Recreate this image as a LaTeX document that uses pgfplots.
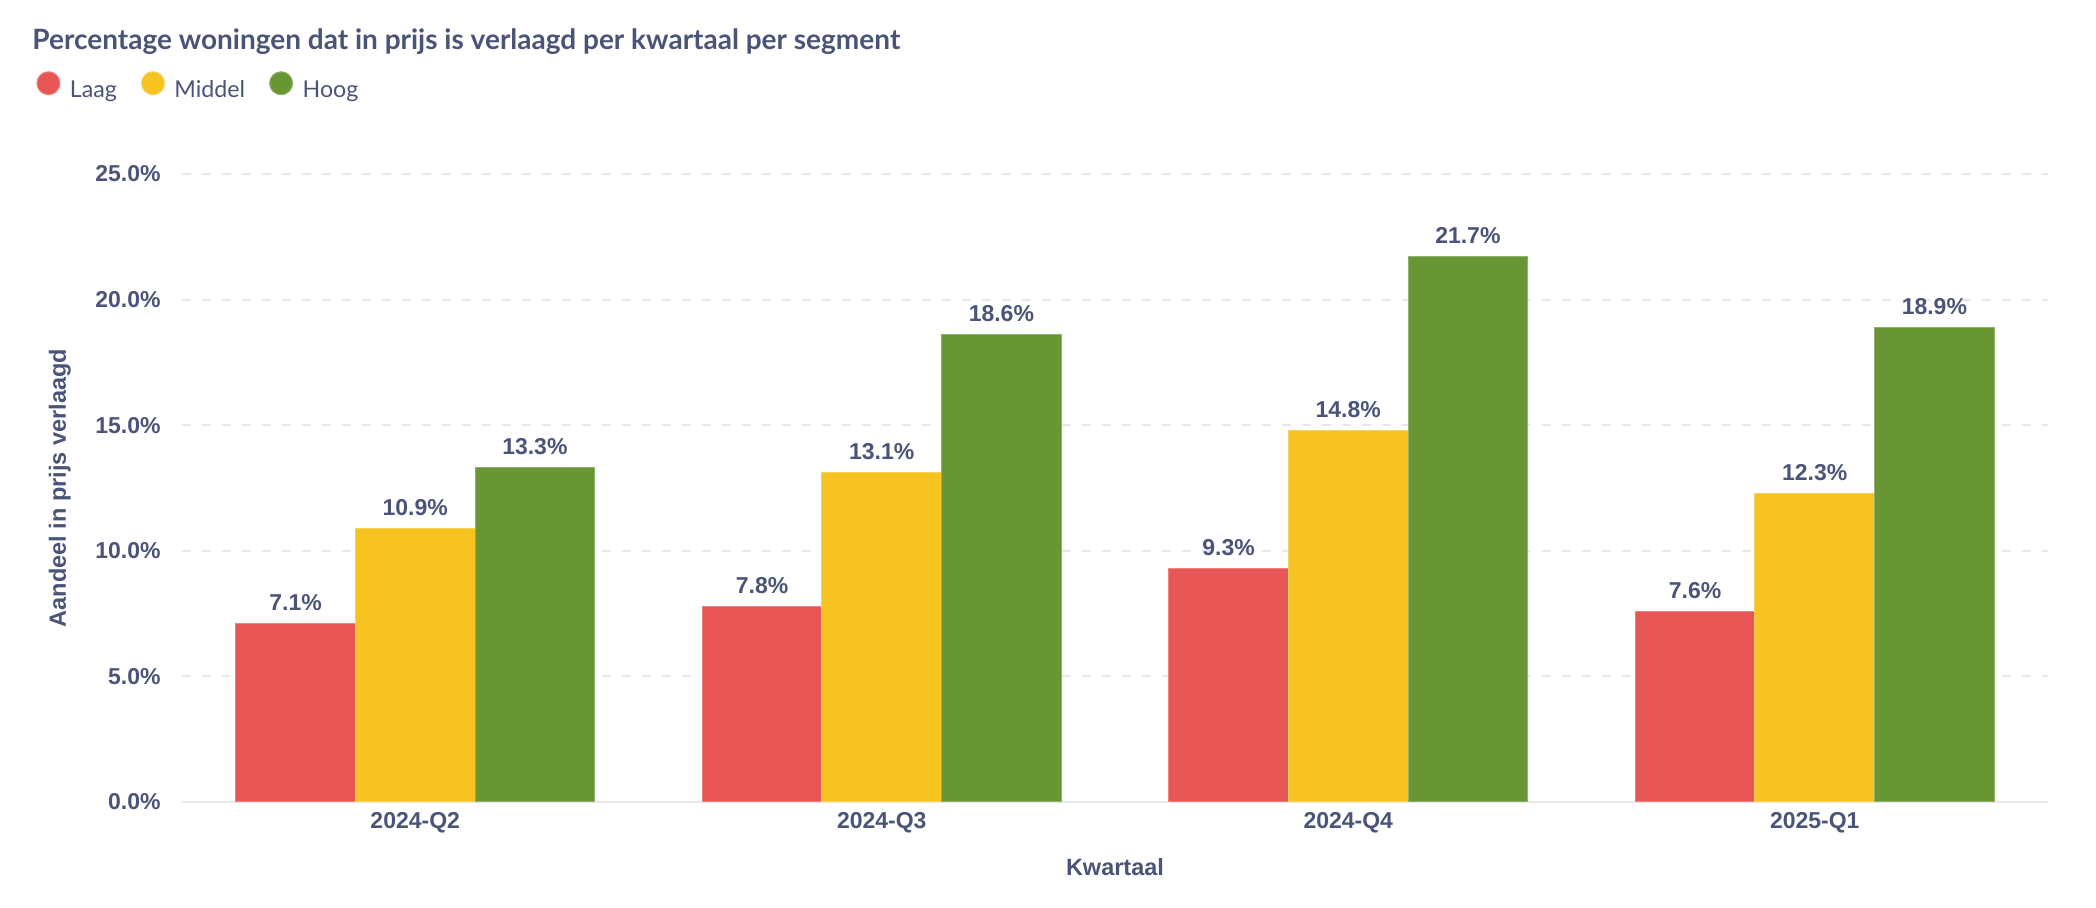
\documentclass[border=0pt]{standalone}
\usepackage{fontspec}
\setmainfont{Lato}
\newfontfamily\arialb{Liberation Sans}
\usepackage{pgfplots}
\pgfplotsset{compat=1.18}
\definecolor{textcol}{HTML}{4A5478}
\definecolor{cLaag}{HTML}{E85555}
\definecolor{cMiddel}{HTML}{F6C320}
\definecolor{cHoog}{HTML}{699635}
\definecolor{gridcol}{HTML}{E8E8E8}
\begin{document}
\begin{tikzpicture}
\useasboundingbox (0,0) rectangle (1048pt,454pt);
\node[anchor=base west, inner sep=0pt, text=textcol, font=\bfseries\fontsize{14}{16}\selectfont] at (16pt,429pt) {Percentage woningen dat in prijs is verlaagd per kwartaal per segment};
\begin{axis}[
  at={(91pt,53pt)}, anchor=south west,
  scale only axis, width=933pt, height=314pt,
  ybar, bar width=0.2564,
  xmin=-0.5, xmax=3.5, ymin=0, ymax=25,
  enlargelimits=false, clip=false,
  axis line style={draw=none},
  major tick length=0pt,
  xtick={0,1,2,3},
  xticklabels={2024-Q2,2024-Q3,2024-Q4,2025-Q1},
  ytick={5,10,15,20,25},
  extra y ticks={0},
  extra y tick style={grid style={solid, draw=gridcol, line width=1.25pt}},
  ymajorgrids,
  grid style={draw=gridcol, line width=1pt, dash pattern=on 4.5pt off 5.5pt},
  /pgf/number format/assume math mode=true,
  yticklabel={\pgfmathprintnumber[fixed,fixed zerofill,precision=1]{\tick}\%},
  yticklabel style={anchor=east, inner sep=0pt, xshift=-10.5pt, text=textcol, font=\arialb\bfseries\fontsize{11.5}{13}\selectfont},
  xticklabel style={anchor=north, inner sep=0pt, yshift=-5pt, text=textcol, font=\arialb\bfseries\fontsize{11.5}{13}\selectfont},
  xlabel={Kwartaal},
  ylabel={Aandeel in prijs verlaagd},
  xlabel style={at={(axis description cs:0.5,-0.0892)}, anchor=north, inner sep=0pt, text=textcol, font=\arialb\bfseries\fontsize{11.75}{13}\selectfont},
  ylabel style={at={(axis description cs:-0.0654,0.5)}, anchor=center, rotate=0, inner sep=0pt, text=textcol, font=\arialb\bfseries\fontsize{11.75}{13}\selectfont},
  nodes near coords={\pgfmathprintnumber[fixed,fixed zerofill,precision=1]{\pgfplotspointmeta}\%},
  every node near coord/.append style={anchor=base, inner sep=0pt, yshift=6.5pt, text=textcol, font=\arialb\bfseries\fontsize{11.5}{13}\selectfont},
  legend columns=3,
  legend style={at={(axis description cs:-0.078,1.1405)}, anchor=west, draw=none, fill=none, inner sep=0pt, outer sep=0pt,
    font=\fontsize{11.6}{13}\selectfont, text=textcol,
    nodes={inner sep=0pt},
    /tikz/every odd column/.append style={column sep=4.75pt},
    /tikz/every even column/.append style={column sep=12pt}},
  legend image code/.code={\fill[#1] (5.75pt,3.5pt) circle (5.75pt);},
]
\addplot[fill=cLaag, draw=cLaag!75!white, line width=0.5pt, bar shift=-0.2564] coordinates {(0,7.1) (1,7.8) (2,9.3) (3,7.6)};
\addlegendentry{Laag}
\addplot[fill=cMiddel, draw=cMiddel!75!white, line width=0.5pt, bar shift=0] coordinates {(0,10.9) (1,13.1) (2,14.8) (3,12.3)};
\addlegendentry{Middel}
\addplot[fill=cHoog, draw=cHoog!75!white, line width=0.5pt, bar shift=0.2564] coordinates {(0,13.3) (1,18.6) (2,21.7) (3,18.9)};
\addlegendentry{Hoog}
\end{axis}
\end{tikzpicture}
\end{document}
